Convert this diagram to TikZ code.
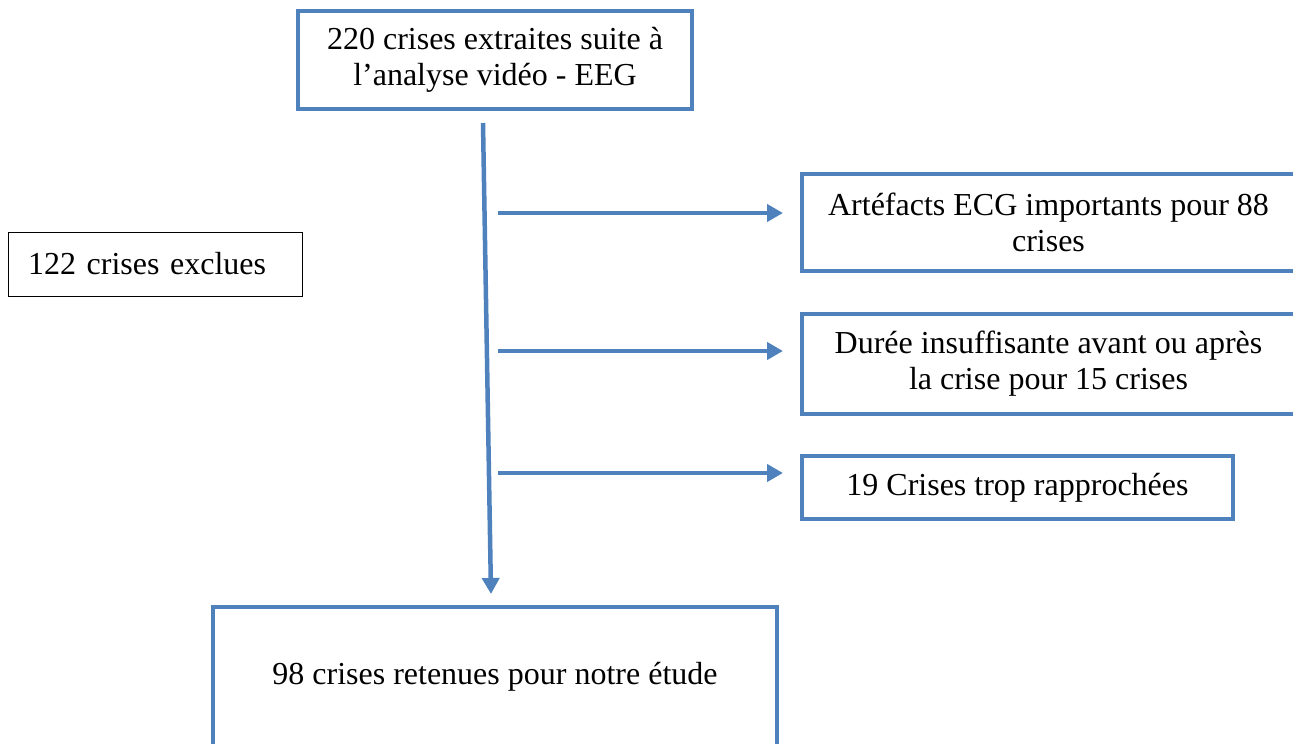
\documentclass[tikz,border=0pt]{standalone}
\usepackage{fontspec}
\setmainfont{Liberation Serif}
\usetikzlibrary{arrows.meta}
\definecolor{ob}{HTML}{4F81BD}
\begin{document}
\begin{tikzpicture}[x=1pt,y=-1pt,
  txt/.style={font=\fontsize{32}{36}\selectfont},
  bbox/.style={txt,draw=ob,line width=4pt,inner sep=0pt,align=center,rectangle},
  tbox/.style={txt,draw=black,line width=1pt,inner sep=0pt,rectangle},
  arr/.style={draw=ob,line width=4.5pt,-{Triangle[length=16pt,width=17pt]}}]
\path[use as bounding box] (0,0) rectangle (1293,744);
\clip (0,0) rectangle (1293,744);

\node[bbox,minimum width=394pt,minimum height=98pt] (top) at (495,60)
  {220 crises extraites suite à\\l’analyse vidéo - EEG};
\node[tbox,minimum width=294pt,minimum height=64pt,text width=254pt,align=left] (excl) at (155,264)
  {122 crises exclues};
\node[bbox,minimum width=493pt,minimum height=97pt] (a1) at (1048.5,222.5)
  {Artéfacts ECG importants pour 88\\crises};
\node[bbox,minimum width=493pt,minimum height=100pt] (a2) at (1048.5,364)
  {Durée insuffisante avant ou après\\la crise pour 15 crises};
\node[bbox,minimum width=431pt,minimum height=63pt] (a3) at (1017.5,487.5)
  {19 Crises trop rapprochées};
\node[bbox,minimum width=564pt,minimum height=141pt] (bot) at (495,677)
  {98 crises retenues pour notre étude};

\coordinate (v1) at (483,123);
\coordinate (v2) at (491,594);
\coordinate (h1) at (498,213);
\coordinate (h2) at (498,351);
\coordinate (h3) at (498,473);

\draw[arr] (v1) -- (v2);
\draw[arr,shorten >=17pt] (h1) -- (h1 -| a1.west);
\draw[arr,shorten >=17pt] (h2) -- (h2 -| a2.west);
\draw[arr,shorten >=17pt] (h3) -- (h3 -| a3.west);
\end{tikzpicture}
\end{document}
